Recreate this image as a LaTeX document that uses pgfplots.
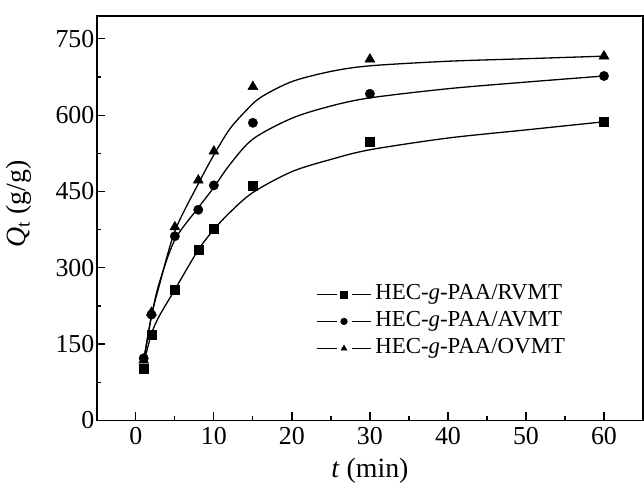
\documentclass[border=0pt]{standalone}
\usepackage{pgfplots}
\pgfplotsset{compat=1.18}
\usepackage{fontspec}
\setmainfont{Liberation Serif}
\begin{document}
\begin{tikzpicture}
\useasboundingbox (-97bp,-63bp) rectangle (548bp,421bp);
\begin{axis}[
  at={(0,0)}, anchor=south west,
  scale only axis, width=547bp, height=405bp,
  xmin=-5, xmax=65, ymin=0, ymax=795,
  xtick={0,10,...,60}, ytick={0,150,...,750},
  minor x tick num=1, minor y tick num=1,
  xtick pos=bottom, ytick pos=left, tick align=inside,
  major tick length=8bp, minor tick length=4bp,
  axis line style={line width=1.6bp},
  every tick/.style={line width=1.2bp, black},
  /pgf/number format/assume math mode=true,
  ticklabel style={font=\fontsize{26}{26}\selectfont},
  xticklabel style={yshift=-3bp},
  yticklabel style={xshift=1bp},
  xlabel={\textit{t} (min)},
  ylabel={\textit{Q}\textsubscript{t} (g/g)},
  label style={font=\fontsize{28}{28}\selectfont},
  xlabel style={at={(axis description cs:0.5,0)}, anchor=base, yshift=-57bp},
  ylabel style={at={(axis description cs:-0.13,0.535)}, anchor=base},
  legend style={at={(axis description cs:0.395,0.35)}, anchor=north west,
    draw=none, fill=none, font=\fontsize{23}{23}\selectfont,
    nodes={text height=15bp, text depth=4bp, inner ysep=4bp, inner xsep=3bp}},
  legend cell align=left,
  legend image code/.code={
    \draw[black, line width=1.6bp] (0bp,0bp)--(20bp,0bp) (35bp,0bp)--(55bp,0bp);
    \draw[#1, mark size=3.4bp, mark repeat=2, mark phase=2] plot coordinates {(0bp,0bp) (27.5bp,0bp) (55bp,0bp)};
  },
]
% fitted curves
\addplot[black, smooth, line width=1.3bp, forget plot] coordinates {
  (1,112) (2,170) (3,205) (5,257) (8,335) (10,375) (12,408) (15,448)
  (20,489) (25,513) (30,532) (40,555) (50,571) (60,587)};
\addplot[black, smooth, line width=1.3bp, forget plot] coordinates {
  (1,118) (2,205) (3,270) (5,355) (8,418) (10,458) (12,502) (15,553)
  (20,594) (25,618) (30,634) (40,652) (50,665) (60,677)};
\addplot[black, smooth, line width=1.3bp, forget plot] coordinates {
  (1,115) (2,205) (3,265) (5,372) (8,465) (10,522) (12,572) (14,607)
  (16,635) (20,666) (25,686) (30,697) (40,706) (50,711) (60,716)};
% measured points
\addplot[black, only marks, mark=square*, mark size=4.5bp] coordinates {
  (1,102) (2,169) (5,256) (8,336) (10,377) (15,461) (30,547) (60,587)};
\addlegendentry{HEC-\textit{g}-PAA/RVMT}
\addplot[black, only marks, mark=*, mark size=4.7bp] coordinates {
  (1,122) (2,208) (5,362) (8,414) (10,462) (15,585) (30,642) (60,677)};
\addlegendentry{HEC-\textit{g}-PAA/AVMT}
\addplot[black, only marks, mark=triangle*, mark size=5.8bp] coordinates {
  (1,118) (2,212) (5,380) (8,472) (10,529) (15,656) (30,710) (60,716)};
\addlegendentry{HEC-\textit{g}-PAA/OVMT}
\end{axis}
\end{tikzpicture}
\end{document}
